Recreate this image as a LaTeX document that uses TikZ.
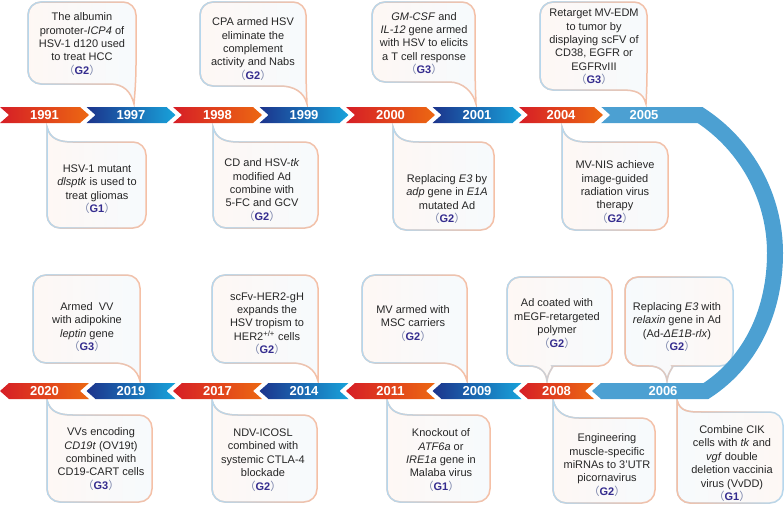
\documentclass[tikz,border=0pt]{standalone}
\usepackage{fontspec}
\setmainfont{Liberation Sans}
\newfontfamily\cjk{Noto Sans CJK SC}
\usepackage{xcolor}
\usepackage{tikz}
\usetikzlibrary{fadings}

\definecolor{tlred}{RGB}{214,30,38}
\definecolor{tlorange}{RGB}{236,104,18}
\definecolor{tlnavy}{RGB}{28,52,140}
\definecolor{tlcyan}{RGB}{24,162,218}
\definecolor{tlarc}{RGB}{76,160,210}
\definecolor{warmedge}{RGB}{246,192,166}
\definecolor{cooledge}{RGB}{182,216,238}
\definecolor{gtext}{RGB}{52,44,142}
\definecolor{gparen}{RGB}{120,130,170}

% (G1) tag
\newcommand{\gtag}[1]{{\color{gparen}\cjk （}{\color{gtext}\textbf{G#1}}{\color{gparen}\cjk ）}}

% speech bubble: left edge colour, right edge colour, path
\newcommand{\bubble}[3]{%
  \shade[left color=#1!12, right color=#2!12] #3;
  \draw[#1, line width=1.5pt] #3;
  \draw[#2, line width=1.5pt, path fading=east] #3;}
% tail down at the right corner
\newcommand{\bubA}[8]{\bubble{#1}{#2}{(#3,{(#4+#6)/2}) [rounded corners=13pt] -- (#3,#4) -- (#5,#4) -- (#5,{#6-6}) [sharp corners] -- (#7,#8) .. controls ({#7-3},{#8-12}) and ({#5-12},#6) .. ({#5-26},#6) [rounded corners=13pt] -- (#3,#6) -- cycle}}
% tail up at the left corner
\newcommand{\bubB}[8]{\bubble{#1}{#2}{(#5,{(#4+#6)/2}) [rounded corners=13pt] -- (#5,#6) -- (#3,#6) -- (#3,{#4+6}) [sharp corners] -- (#7,#8) .. controls ({#7+3},{#8+12}) and ({#3+12},#4) .. ({#3+26},#4) [rounded corners=13pt] -- (#5,#4) -- cycle}}
% tail down in the middle
\newcommand{\bubC}[8]{\bubble{#1}{#2}{(#3,{(#4+#6)/2}) [rounded corners=13pt] -- (#3,#4) -- (#5,#4) -- (#5,#6) -- ({#7+18},#6) [sharp corners] .. controls ({#7+8},#6) and ({#7+1},{#8-10}) .. (#7,#8) .. controls ({#7-1},{#8-10}) and ({#7-8},#6) .. ({#7-18},#6) [rounded corners=13pt] -- (#3,#6) -- cycle}}

% timeline pieces: start x, width, colours, year
\newcommand{\fwdseg}[5]{%
  \shade[left color=#3, right color=#4] (#1,107) -- ({#1+#2},107) -- ({#1+#2+9},115) -- ({#1+#2},123) -- (#1,123) -- ({#1+9},115) -- cycle;
  \node[year] (y#5) at ({#1+(#2+9)/2},115) {#5};}
\newcommand{\backseg}[5]{%
  \shade[left color=#3, right color=#4] (#1,391) -- ({#1+9},383) -- ({#1+#2},383) -- ({#1+#2-9},391) -- ({#1+#2},399) -- ({#1+9},399) -- cycle;
  \node[year] (y#5) at ({#1+#2/2},391) {#5};}

\begin{document}
\begin{tikzpicture}[
  x=1pt, y=-1pt,
  year/.style={font=\bfseries\fontsize{13}{13}\selectfont, text=white, inner sep=0pt},
  note/.style={align=center, font=\fontsize{11}{13.4}\selectfont, text=black!85, inner sep=0pt}
]
\useasboundingbox (0,0) rectangle (784,504);

% bubbles above the upper line
\bubA{warmedge}{cooledge}{28}{2}{136}{84}{134}{104}
\node[note] (albumin) at (82,44) {The albumin\\promoter-\textit{ICP4} of\\HSV-1 d120 used\\to treat HCC\\\gtag{2}};
\bubA{warmedge}{cooledge}{200}{2}{306}{86}{307}{104}
\node[note] (cpa) at (253,49) {CPA armed HSV\\eliminate the\\complement\\activity and Nabs\\\gtag{2}};
\bubA{warmedge}{cooledge}{372}{2}{475}{82}{476}{104}
\node[note] (gmcsf) at (424,43.5) {\textit{GM-CSF} and\\\textit{IL-12} gene armed\\with HSV to elicits\\a T cell response\\\gtag{3}};
\bubA{warmedge}{cooledge}{540}{2}{647}{90}{646}{104}
\node[note] (retarget) at (594,47) {Retarget MV-EDM\\to tumor by\\displaying scFV of\\CD38, EGFR or\\EGFRvIII\\\gtag{3}};

% bubbles below the upper line
\bubB{warmedge}{cooledge}{47}{142}{146}{228}{47}{127}
\node[note] (dlsptk) at (97,189) {HSV-1 mutant\\\textit{dlsptk} is used to\\treat gliomas\\\gtag{1}};
\bubB{warmedge}{cooledge}{213}{142}{318}{228}{213}{127}
\node[note] (cdtk) at (262,190) {CD and HSV-\textit{tk}\\modified Ad\\combine with\\5-FC and GCV\\\gtag{2}};
\bubB{warmedge}{cooledge}{393}{142}{494}{230}{393}{127}
\node[note] (adp) at (447,199) {Replacing \textit{E3} by\\\textit{adp} gene in \textit{E1A}\\mutated Ad\\\gtag{2}};
\bubB{warmedge}{cooledge}{562}{142}{668}{230}{562}{127}
\node[note] (mvnis) at (615,192) {MV-NIS achieve\\image-guided\\radiation virus\\therapy\\\gtag{2}};

% bubbles above the lower line
\bubA{warmedge}{cooledge}{33}{275}{140}{363}{140}{381}
\node[note] (leptin) at (87,327) {Armed~ VV\\with adipokine\\\textit{leptin} gene\\\gtag{3}};
\bubA{warmedge}{cooledge}{212}{275}{318}{363}{318}{381}
\node[note] (her2) at (267,323.5) {scFv-HER2-gH\\expands the\\HSV tropism to\\HER2\textsuperscript{+/+} cells\\\gtag{2}};
\bubA{warmedge}{cooledge}{362}{275}{467}{363}{467}{381}
\node[note] (msc) at (413,323.5) {MV armed with\\MSC carriers\\\gtag{2}};
\bubC{warmedge}{cooledge}{507}{277}{612}{366}{547}{381}
\node[note] (megf) at (557,323.5) {Ad coated with\\mEGF-retargeted\\polymer\\\gtag{2}};
\bubC{cooledge}{warmedge}{625}{277}{733}{366}{667}{381}
\node[note] (relaxin) at (677,327) {Replacing \textit{E3} with\\\textit{relaxin} gene in Ad\\(Ad-\textit{ΔE1B-rlx})\\\gtag{2}};

% bubbles below the lower line
\bubB{warmedge}{cooledge}{47}{415}{152}{502}{47}{400}
\node[note] (cd19t) at (101,459) {VVs encoding\\\textit{CD19t} (OV19t)\\combined with\\CD19-CART cells\\\gtag{3}};
\bubB{warmedge}{cooledge}{212}{415}{317}{502}{212}{400}
\node[note] (icosl) at (263,460) {NDV-ICOSL\\combined with\\systemic CTLA-4\\blockade\\\gtag{2}};
\bubB{warmedge}{cooledge}{387}{415}{490}{502}{387}{400}
\node[note] (atf6a) at (441,460) {Knockout of\\\textit{ATF6a} or\\\textit{IRE1a} gene in\\Malaba virus\\\gtag{1}};
\bubB{warmedge}{cooledge}{553}{418}{655}{503}{553}{400}
\node[note] (mirna) at (607,465) {Engineering\\muscle-specific\\miRNAs to 3’UTR\\picornavirus\\\gtag{2}};
\bubB{cooledge}{warmedge}{677}{412}{783}{503}{677}{400}
\node[note] (cik) at (732,463.5) {Combine CIK\\cells with \textit{tk} and\\\textit{vgf} double\\deletion vaccinia\\virus (VvDD)\\\gtag{1}};

% the bend
\draw[tlarc, line width=16pt, line join=miter] (601,115) -- (700,115)
  .. controls (746.7,145.3) and (775,197.3) .. (775,253)
  .. controls (775,308.7) and (752.7,360.7) .. (706,391) -- (601,391);
\fill[white] (600,106) -- (610,115) -- (600,124) -- cycle;
\fill[tlarc] (601,383) -- (592,391) -- (601,399) -- cycle;
\node[year] (y2005) at (644,115) {2005};
\node[year] (y2006) at (663,391) {2006};

% upper line
\fwdseg{0}{80}{tlred}{tlorange}{1991}
\fwdseg{86.5}{80}{tlnavy}{tlcyan}{1997}
\fwdseg{173}{80}{tlred}{tlorange}{1998}
\fwdseg{259.5}{80}{tlnavy}{tlcyan}{1999}
\fwdseg{346}{80}{tlred}{tlorange}{2000}
\fwdseg{432.5}{80}{tlnavy}{tlcyan}{2001}
\fwdseg{519}{75}{tlred}{tlorange}{2004}

% lower line
\backseg{0}{89}{tlred}{tlorange}{2020}
\backseg{86.5}{89}{tlnavy}{tlcyan}{2019}
\backseg{173}{89}{tlred}{tlorange}{2017}
\backseg{259.5}{89}{tlnavy}{tlcyan}{2014}
\backseg{346}{89}{tlred}{tlorange}{2011}
\backseg{432.5}{89}{tlnavy}{tlcyan}{2009}
\backseg{519}{75}{tlred}{tlorange}{2008}
\end{tikzpicture}
\end{document}
